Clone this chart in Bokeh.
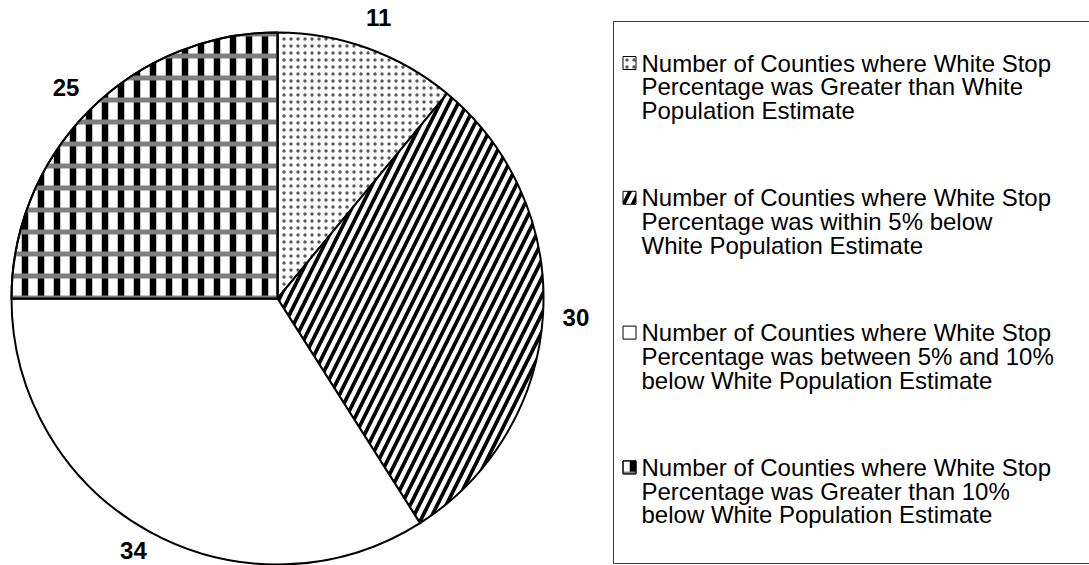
import math

from bokeh.core.properties import value
from bokeh.embed import file_html
from bokeh.models import Range1d
from bokeh.plotting import figure
from bokeh.resources import INLINE

# ---- data -------------------------------------------------------------
counts = [11, 30, 34, 25]
count_labels = [str(c) for c in counts]
legend_lines = [
    ["Number of Counties where White Stop",
     "Percentage was Greater than White",
     "Population Estimate"],
    ["Number of Counties where White Stop",
     "Percentage was within 5% below",
     "White Population Estimate"],
    ["Number of Counties where White Stop",
     "Percentage was between 5% and 10%",
     "below White Population Estimate"],
    ["Number of Counties where White Stop",
     "Percentage was Greater than 10%",
     "below White Population Estimate"],
]

# ---- layout (pixel-space canvas, y measured upward) --------------------
W, H = 1089, 565
CX, CY, R = 277, H - 298, 266
LABEL_R = 299
FONT = "Liberation Sans"

# per-slice fill styles (monochrome hatching)
styles = [
    dict(hatch_pattern="dot", hatch_color="#5a5a5a", hatch_scale=7, hatch_weight=1),
    dict(hatch_pattern="right_diagonal_line", hatch_color="black", hatch_scale=18, hatch_weight=3.8),
    dict(hatch_pattern=" ", hatch_color="black", hatch_scale=8, hatch_weight=1),
    dict(hatch_pattern="vertical_line", hatch_color="black", hatch_scale=16, hatch_weight=6.5),
]
# second hatch layer laid over the last slice (grey bands)
overlay = {3: dict(hatch_pattern="horizontal_line", hatch_color="#7e7e7e", hatch_scale=22, hatch_weight=5)}

p = figure(width=W, height=H, x_range=Range1d(0, W), y_range=Range1d(0, H),
           x_axis_type=None, y_axis_type=None, output_backend="svg",
           toolbar_location=None, min_border=0)
p.grid.visible = False
p.outline_line_color = None
p.background_fill_color = "white"
p.border_fill_color = "white"

total = sum(counts)
cum = 0
for i, c in enumerate(counts):
    # slices run clockwise from 12 o'clock
    a_top = math.pi / 2 - 2 * math.pi * cum / total
    a_end = math.pi / 2 - 2 * math.pi * (cum + c) / total
    p.wedge(x=CX, y=CY, radius=R, radius_units="screen",
            start_angle=a_end, end_angle=a_top,
            fill_color="white", line_color="black", line_width=2, **styles[i])
    if i in overlay:
        p.wedge(x=CX, y=CY, radius=R, radius_units="screen",
                start_angle=a_end, end_angle=a_top,
                fill_color=None, line_color="black", line_width=2, **overlay[i])
    # value label outside the slice, kept inside the canvas
    mid = (a_top + a_end) / 2
    lx = CX + LABEL_R * math.cos(mid)
    ly = max(CY + LABEL_R * math.sin(mid), 15)
    p.text(x=[lx], y=[ly], text=[count_labels[i]],
           text_font=value(FONT), text_font_style="bold", text_font_size="24px",
           text_align="center", text_baseline="middle", text_color="black")
    cum += c

# ---- legend ------------------------------------------------------------
p.quad(left=613, right=W + 10, top=H - 21, bottom=H - 563,
       fill_color=None, line_color="#3a3a3a", line_width=1)

ITEM_TOP, ITEM_STEP, LINE_STEP = 62.5, 134.8, 23.7
for i, lines in enumerate(legend_lines):
    y0 = ITEM_TOP + i * ITEM_STEP
    p.rect(x=629, y=H - y0, width=13, height=13,
           fill_color="white", line_color="black", line_width=1, **styles[i])
    if i in overlay:
        p.rect(x=629, y=H - y0, width=13, height=13,
               fill_color=None, line_color="black", line_width=1, **overlay[i])
    ys = [H - (y0 + j * LINE_STEP) for j in range(len(lines))]
    p.text(x=[641] * len(lines), y=ys, text=lines,
           text_font=value(FONT), text_font_size="24px",
           text_align="left", text_baseline="middle", text_color="black")

open("out.html", "w").write(file_html(p, INLINE))
